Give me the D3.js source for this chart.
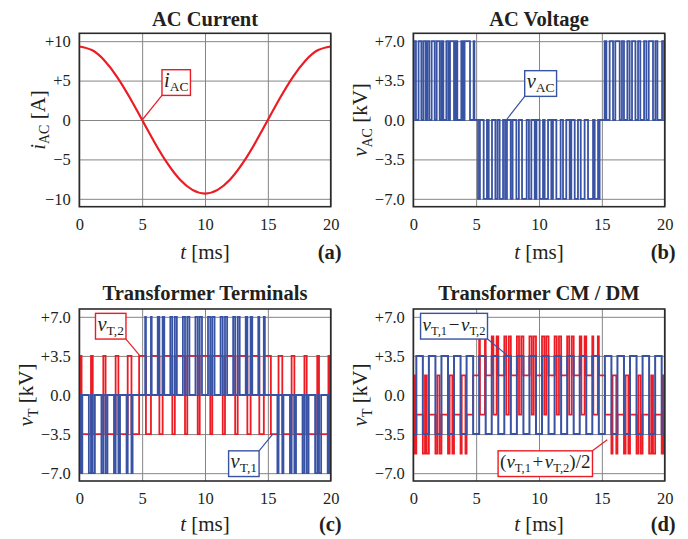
<!DOCTYPE html>
<html><head><meta charset="utf-8">
<script src="https://cdn.jsdelivr.net/npm/d3@7"></script>
<style>
body{margin:0;background:#fff;}
svg text{font-family:"Liberation Serif","Times New Roman",serif;fill:#231f20;}
</style></head><body>
<svg id="c" width="688" height="539"></svg>
<script>
// ---------------- data ----------------
const timeTicks = [0, 5, 10, 15, 20];
const currentTicks = [10, 5, 0, -5, -10];
const currentTickLabels = ["+10", "+5", "0", "\u22125", "\u221210"];
const voltTicks = [7, 3.5, 0, -3.5, -7];
const voltTickLabels = ["+7.0", "+3.5", "0.0", "\u22123.5", "\u22127.0"];

// AC current samples [ms] / [A]
const iacTime = [0,1,2,3,4,5,6,7,8,9,10,11,12,13,14,15,16,17,18,19,20];
const iacValues = [9.33,8.87,7.55,5.48,2.88,0,-2.88,-5.48,-7.55,-8.87,-9.33,-8.87,-7.55,-5.48,-2.88,0,2.88,5.48,7.55,8.87,9.33];

// AC voltage: switching instants [ms] and levels [kV] (level holds until next instant)
const vacEdges = [0,0.05,0.21,0.42,0.64,0.8,0.98,1.11,1.27,1.46,1.7,1.86,2.1,2.25,2.39,2.63,2.79,2.92,3.24,3.37,3.5,3.82,3.95,4.08,4.51,4.8,4.86,
 5.15,5.3,5.6,5.86,6.0,6.26,6.53,6.7,6.87,7.14,7.3,7.45,7.75,7.9,8.2,8.4,8.65,9.02,9.2,9.39,9.66,9.8,10.05,10.32,10.45,10.72,10.98,11.11,11.38,11.72,11.91,12.17,12.44,12.57,12.84,13.1,13.32,13.63,13.9,14.3,14.43,14.7,14.76,14.82,
 15.22,15.36,15.62,15.89,16.07,16.42,16.6,16.76,17.03,17.21,17.4,17.67,17.88,18.06,18.36,18.54,18.73,19.07,19.26,19.42,19.79,19.95,19.97,20];
const vacLevels = [0,7,0,7,0,7,0,7,0,7,0,7,0,7,0,7,0,7,0,7,0,7,0,7,0,7,0,
 -7,0,-7,0,-7,0,-7,0,-7,0,-7,0,-7,0,-7,0,-7,0,-7,0,-7,0,-7,0,-7,0,-7,0,-7,0,-7,0,-7,0,-7,0,-7,0,-7,0,-7,0,-7,0,
 7,0,7,0,7,0,7,0,7,0,7,0,7,0,7,0,7,0,7,0,7,0,7,7];

// transformer terminal 1: switching instants [ms] / levels [kV]
const vT1Edges = [0,0.1,0.18,0.24, 0.76,0.93,1.07,1.24, 1.76,1.91,2.09,2.24, 2.76,2.89,3.11,3.24, 3.76,3.85,4.15,4.24,
 5.24,5.3,5.7,5.76, 6.24,6.37,6.63,6.76, 7.24,7.4,7.6,7.76, 8.24,8.41,8.59,8.76, 9.24,9.42,9.58,9.76,
 10.24,10.42,10.58,10.76, 11.24,11.41,11.59,11.76, 12.24,12.4,12.6,12.76, 13.24,13.37,13.63,13.76, 14.24,14.32,14.68,14.76,
 15.76,15.85,16.15,16.24, 16.76,16.89,17.11,17.24, 17.76,17.91,18.09,18.24, 18.76,18.93,19.07,19.24, 19.76,19.82,19.9,20];
const vT1Levels = [-7,0,-7,0, -7,0,-7,0, -7,0,-7,0, -7,0,-7,0, -7,0,-7,0,
 7,0,7,0, 7,0,7,0, 7,0,7,0, 7,0,7,0, 7,0,7,0,
 7,0,7,0, 7,0,7,0, 7,0,7,0, 7,0,7,0, 7,0,7,0,
 -7,0,-7,0, -7,0,-7,0, -7,0,-7,0, -7,0,-7,0, -7,0,-7,-7];

// transformer terminal 2: switching instants [ms] / levels [kV]
const vT2Edges = [0,0.1,0.18,0.24,0.76,0.93,1.07,1.24,1.76,1.91,2.09,2.24,2.76,2.89,3.11,3.24,3.76,3.85,4.15,4.24,4.76,
 5.24,5.3,5.7,5.76,6.24,6.37,6.63,6.76,7.24,7.4,7.6,7.76,8.24,8.41,8.59,8.76,9.24,9.42,9.58,9.76,
 10.24,10.42,10.58,10.76,11.24,11.41,11.59,11.76,12.24,12.4,12.6,12.76,13.24,13.37,13.63,13.76,14.24,14.32,14.68,14.76,
 15.24,15.76,15.85,16.15,16.24,16.76,16.89,17.11,17.24,17.76,17.91,18.09,18.24,18.76,18.93,19.07,19.24,19.76,19.82,19.9,20];
const vT2Levels = [-3.5,3.5,-3.5,-3.5,-3.5,3.5,-3.5,-3.5,-3.5,3.5,-3.5,-3.5,-3.5,3.5,-3.5,-3.5,-3.5,3.5,-3.5,-3.5,3.5,
 3.5,-3.5,3.5,3.5,3.5,-3.5,3.5,3.5,3.5,-3.5,3.5,3.5,3.5,-3.5,3.5,3.5,3.5,-3.5,3.5,3.5,
 3.5,-3.5,3.5,3.5,3.5,-3.5,3.5,3.5,3.5,-3.5,3.5,3.5,3.5,-3.5,3.5,3.5,3.5,-3.5,3.5,3.5,
 -3.5,-3.5,3.5,-3.5,-3.5,-3.5,3.5,-3.5,-3.5,-3.5,3.5,-3.5,-3.5,-3.5,3.5,-3.5,-3.5,-3.5,3.5,-3.5,-3.5];

// ---------------- helpers ----------------
const RED = "#ec1c24", BLUE = "#3953a4";
const svg = d3.select("#c");
const frames = {
  a:{left:79.3,right:330.7,top:33.3,bottom:206.7,titleY:26,labY:258.5},
  b:{left:413.3,right:664.7,top:33.3,bottom:206.7,titleY:26,labY:258.5},
  c:{left:79.3,right:330.7,top:309,bottom:481,titleY:300,labY:531},
  d:{left:413.3,right:664.7,top:309,bottom:481,titleY:300,labY:531}
};
function steps(ts, vs){ return ts.map((t,i)=>[t, vs[i]]); }
function levelAt(ts, vs, t){ let v = vs[0]; for(let i=0;i<ts.length;i++){ if(ts[i]<=t) v=vs[i]; else break;} return v; }
// panel (d) plots the combinations named in its labels: vT1 - vT2 and (vT1 + vT2)/2
function combine(aT, aV, bT, bV, fn){
  const ts = Array.from(new Set(aT.concat(bT))).sort((p,q)=>p-q);
  return ts.map(t=>[t, fn(levelAt(aT,aV,t), levelAt(bT,bV,t))]);
}

function addText(sel, parts, subSize){
  parts.forEach(p=>{
    const ts = sel.append("tspan").text(p.t);
    if(p.it) ts.attr("font-style","italic");
    if(p.sub) ts.attr("font-size",subSize).attr("dy",4.5);
    else if(p.up) ts.attr("dy",-4.5);
  });
}

function panel(key, yDomain, ticks, tickLabels, title, ylab, tag){
  const f = frames[key];
  const x = d3.scaleLinear().domain([0,20]).range([f.left,f.right]);
  const y = d3.scaleLinear().domain(yDomain).range([f.bottom,f.top]);
  const g = svg.append("g");
  const gx = g.append("g").attr("transform",`translate(0,${f.bottom})`)
    .call(d3.axisBottom(x).tickValues(timeTicks).tickSize(-(f.bottom-f.top)).tickPadding(11.6).tickFormat(d3.format("d")));
  const gy = g.append("g").attr("transform",`translate(${f.left},0)`)
    .call(d3.axisLeft(y).tickValues(ticks).tickSize(-(f.right-f.left)).tickPadding(8.5).tickFormat((d,i)=>tickLabels[i]));
  [gx,gy].forEach(a=>{
    a.select(".domain").remove();
    a.attr("font-size",16.5).attr("font-family",null);
    a.selectAll("line").attr("stroke","#858585").attr("stroke-width",1);
    a.selectAll("text").attr("fill","#231f20");
  });
  const data = g.append("g");
  g.append("text").attr("x",(f.left+f.right)/2).attr("y",f.titleY).attr("text-anchor","middle")
    .attr("font-size",20.5).attr("font-weight","bold").text(title);
  const xl = g.append("text").attr("x",(f.left+f.right)/2).attr("y",f.labY).attr("text-anchor","middle").attr("font-size",21);
  addText(xl,[{t:"t",it:true},{t:" [ms]"}],14);
  g.append("text").attr("x",f.right+11).attr("y",f.labY).attr("text-anchor","end")
    .attr("font-size",20.5).attr("font-weight","bold").text(tag);
  const yl = g.append("text").attr("text-anchor","middle").attr("font-size",21)
    .attr("transform",`translate(${f.left-ylab.off},${(f.top+f.bottom)/2}) rotate(-90)`);
  addText(yl, ylab.parts, 14);
  g.append("rect").attr("x",f.left).attr("y",f.top).attr("width",f.right-f.left).attr("height",f.bottom-f.top)
    .attr("fill","none").attr("stroke","#2b2b2b").attr("stroke-width",1.6);
  const ann = g.append("g");
  return {g,data,ann,x,y,f};
}

function drawStep(p, pts, color, w){
  p.data.append("path").datum(pts)
    .attr("d", d3.line().x(d=>p.x(d[0])).y(d=>p.y(d[1])).curve(d3.curveStepAfter))
    .attr("fill","none").attr("stroke",color).attr("stroke-width",w);
}

function annotate(p, parts, bx, by, tx, ty, corner, color, fs, sub){
  const cx = p.x(bx), cy = p.y(by);
  const grp = p.ann.append("g");
  const t = grp.append("text").attr("x",cx).attr("y",cy+4.3).attr("text-anchor","middle").attr("font-size",fs);
  addText(t, parts, sub);
  const bb = t.node().getBBox();
  const w = bb.width + 4, h = 25.7;
  const L = cx - w/2, T = cy - h/2;
  const c = {bl:[L,T+h], br:[L+w,T+h], tr:[L+w,T], tl:[L,T]}[corner];
  grp.insert("line","text").attr("x1",c[0]).attr("y1",c[1]).attr("x2",p.x(tx)).attr("y2",p.y(ty))
    .attr("stroke",color).attr("stroke-width",1.2);
  grp.insert("rect","text").attr("x",L).attr("y",T).attr("width",w).attr("height",h)
    .attr("fill","#fff").attr("stroke",color).attr("stroke-width",1.4);
}

// ---------------- panel (a) ----------------
const pa = panel("a",[-11,11],currentTicks,currentTickLabels,"AC Current",
  {off:34.8, parts:[{t:"i",it:true},{t:"AC",sub:true},{t:" [A]",up:true}]},"(a)");
pa.data.append("path").datum(iacTime.map((t,i)=>[t,iacValues[i]]))
  .attr("d", d3.line().x(d=>pa.x(d[0])).y(d=>pa.y(d[1])).curve(d3.curveNatural))
  .attr("fill","none").attr("stroke",RED).attr("stroke-width",2.2);
annotate(pa,[{t:"i",it:true},{t:"AC",sub:true}],7.71,4.75,5,0,"bl",RED,20.5,13.5);

// ---------------- panel (b) ----------------
const pb = panel("b",[-7.7,7.7],voltTicks,voltTickLabels,"AC Voltage",
  {off:46.3, parts:[{t:"v",it:true},{t:"AC",sub:true},{t:" [kV]",up:true}]},"(b)");
drawStep(pb, steps(vacEdges,vacLevels), BLUE, 1.8);
annotate(pb,[{t:"v",it:true},{t:"AC",sub:true}],10.13,3.24,7.4,0,"bl",BLUE,20.5,13.5);

// ---------------- panel (c) ----------------
const pc = panel("c",[-7.7,7.7],voltTicks,voltTickLabels,"Transformer Terminals",
  {off:46.3, parts:[{t:"v",it:true},{t:"T",sub:true},{t:" [kV]",up:true}]},"(c)");
drawStep(pc, steps(vT2Edges,vT2Levels), RED, 1.8);
drawStep(pc, steps(vT1Edges,vT1Levels), BLUE, 1.8);
annotate(pc,[{t:"v",it:true},{t:"T,2",sub:true}],2.5,6.16,4.83,3.5,"br",RED,20.5,13.5);
annotate(pc,[{t:"v",it:true},{t:"T,1",sub:true}],13.09,-6.15,15.39,-3.5,"tr",BLUE,20.5,13.5);

// ---------------- panel (d) ----------------
const pd = panel("d",[-7.7,7.7],voltTicks,voltTickLabels,"Transformer CM / DM",
  {off:46.3, parts:[{t:"v",it:true},{t:"T",sub:true},{t:" [kV]",up:true}]},"(d)");
drawStep(pd, combine(vT1Edges,vT1Levels,vT2Edges,vT2Levels,(a,b)=>(a+b)/2), RED, 1.8);
drawStep(pd, combine(vT1Edges,vT1Levels,vT2Edges,vT2Levels,(a,b)=>a-b), BLUE, 2.0);
annotate(pd,[{t:"v",it:true},{t:"T,1",sub:true},{t:"\u200a\u2212\u200a",up:true},{t:"v",it:true},{t:"T,2",sub:true}],3.24,6.16,7.53,3.5,"br",BLUE,19,12.5);
annotate(pd,[{t:"("},{t:"v",it:true},{t:"T,1",sub:true},{t:"\u200a+\u200a",up:true},{t:"v",it:true},{t:"T,2",sub:true},{t:")/2",up:true}],10.5,-6.15,15.43,-4.0,"tr",RED,19,12.5);
</script></body></html>
